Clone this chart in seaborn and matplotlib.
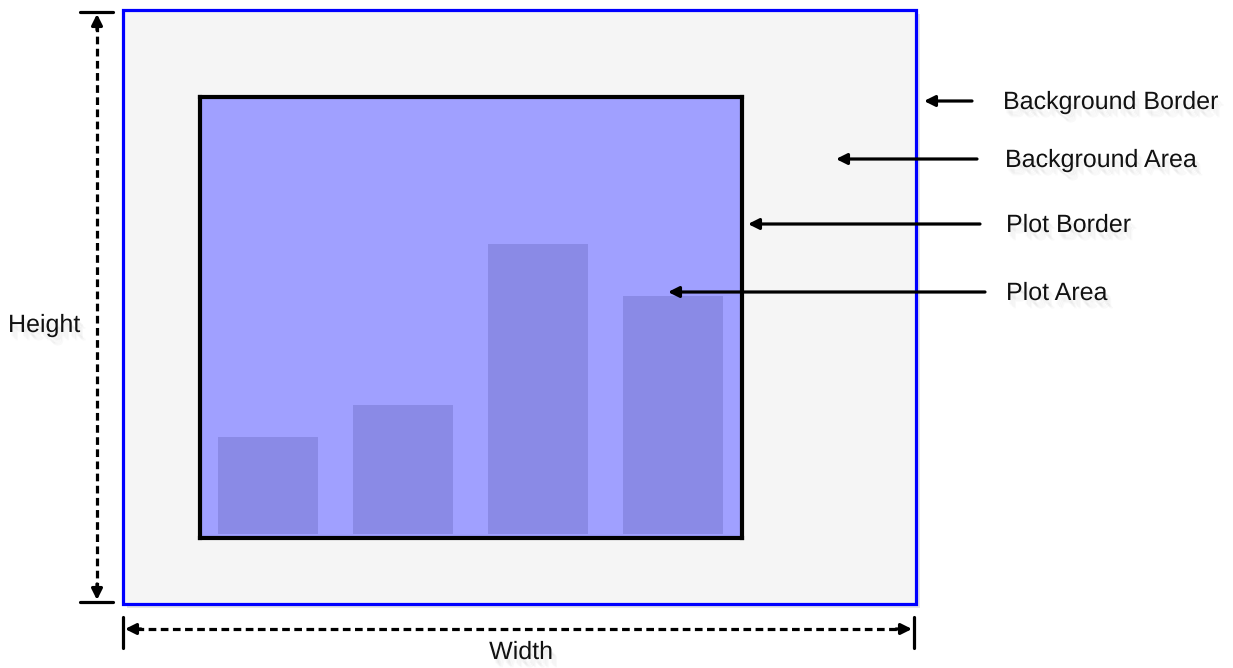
import matplotlib
matplotlib.use("Agg")
import matplotlib.pyplot as plt
import matplotlib.patheffects as pe
from matplotlib.patches import Rectangle
import seaborn as sns
import pandas as pd

# bars inside the plot area (heights, arbitrary units)
categories = ["A", "B", "C", "D"]
values = [97, 129, 289, 237]

# callout labels on the right side
labels = ["Background Border", "Background Area", "Plot Border", "Plot Area"]

sns.set_style("white")
plt.rcParams['font.family'] = ['Liberation Sans', 'DejaVu Sans']

W, H = 1233, 668
fig = plt.figure(figsize=(W / 100, H / 100), dpi=100)
fig.patch.set_facecolor("white")

# layer 0: background area with blue border (pixel coords, y down)
bg = fig.add_axes([0, 0, 1, 1], zorder=0)
bg.set_xlim(0, W)
bg.set_ylim(H, 0)
bg.axis("off")
bg.add_patch(Rectangle((127, 14), 793, 594, facecolor="#e6e6e6", edgecolor="none"))
bg.add_patch(Rectangle((123, 10), 793, 594, facecolor="#f5f5f5", edgecolor="#0000ff", lw=2.3))

# layer 1: the plot area itself, drawn by seaborn
ax = fig.add_axes([200 / W, (H - 538) / H, 542 / W, 441 / H], zorder=1)
df = pd.DataFrame({"cat": categories, "val": values})
sns.barplot(data=df, x="cat", y="val", color="#8a8ae6", saturation=1, width=0.74,
            linewidth=0, edgecolor="none", ax=ax)
ax.set_facecolor("#a0a0ff")
ax.set_xlim(-0.5, 3.51)
ax.set_ylim(-4, 436)
ax.set_xlabel("")
ax.set_ylabel("")
ax.set_xticks([])
ax.set_yticks([])
for sp in ax.spines.values():
    sp.set_visible(True)
    sp.set_color("black")
    sp.set_linewidth(3)

# layer 2: arrows and text
top = fig.add_axes([0, 0, 1, 1], zorder=2)
top.set_xlim(0, W)
top.set_ylim(H, 0)
top.axis("off")
top.patch.set_alpha(0)

# soft drop shadow: a few faint offset copies
shadow = [pe.SimplePatchShadow(offset=(o, -o - 2), shadow_rgbFace="#999999", alpha=0.06)
          for o in (1, 2, 3, 4)] + [pe.Normal()]
arrow_kw = dict(arrowstyle="-|>", lw=2.3, color="black", mutation_scale=16, shrinkA=0, shrinkB=0)

text_x = [1003, 1005, 1006, 1006]
text_y = [102, 160, 225, 293]
arrow_tail = [972, 977, 980, 985]
arrow_head = [924, 836, 748, 668]
for lab, tx, ty, t0, t1 in zip(labels, text_x, text_y, arrow_tail, arrow_head):
    top.text(tx, ty, lab, fontsize=18, color="#111111", va="center", ha="left", path_effects=shadow)
    top.annotate("", xy=(t1, ty - 1), xytext=(t0, ty - 1), arrowprops=arrow_kw)

# height dimension
dash = (0, (2.4, 1.4))
top.plot([97, 97], [24, 590], color="black", lw=2.3, ls=dash)
top.annotate("", xy=(97, 14), xytext=(97, 30), arrowprops=arrow_kw)
top.annotate("", xy=(97, 600), xytext=(97, 584), arrowprops=arrow_kw)
top.plot([80, 113], [12, 12], color="black", lw=2.3)
top.plot([80, 113], [602, 602], color="black", lw=2.3)
top.text(8, 325, "Height", fontsize=18, color="#111111", va="center", ha="left", path_effects=shadow)

# width dimension
top.plot([136, 902], [629, 629], color="black", lw=2.3, ls=dash)
top.annotate("", xy=(125, 629), xytext=(141, 629), arrowprops=arrow_kw)
top.annotate("", xy=(912, 629), xytext=(896, 629), arrowprops=arrow_kw)
top.plot([123, 123], [617, 648], color="black", lw=2.3)
top.plot([914, 914], [617, 648], color="black", lw=2.3)
top.text(521, 652, "Width", fontsize=18, color="#111111", va="center", ha="center", path_effects=shadow)

fig.savefig("out.png", dpi=100)
